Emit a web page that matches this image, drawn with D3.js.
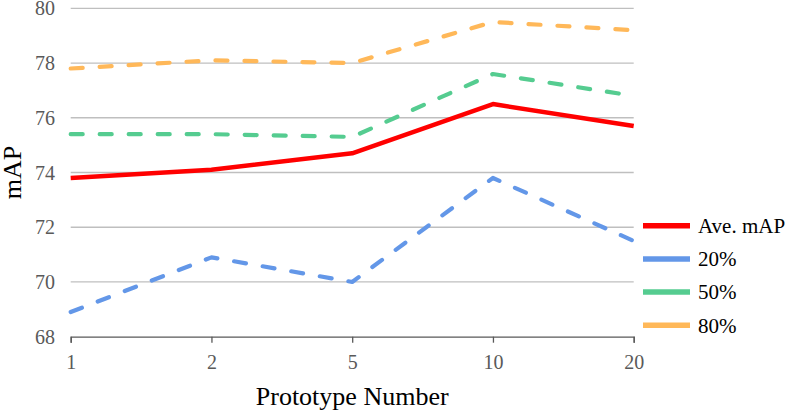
<!DOCTYPE html>
<html>
<head>
<meta charset="utf-8">
<script src="https://cdn.jsdelivr.net/npm/d3@7"></script>
<style>
  html, body { margin: 0; padding: 0; background: #fff; }
  svg { display: block; font-family: "Liberation Serif", "Times New Roman", serif; }
</style>
</head>
<body>
<svg id="chart" width="789" height="413"></svg>
<script>
const categories = ['1', '2', '5', '10', '20'];
const aveMap = [73.8, 74.1, 74.7, 76.5, 75.7];
const p20 = [68.9, 70.9, 70.0, 73.8, 71.5];
const p50 = [75.4, 75.4, 75.3, 77.6, 76.8];
const p80 = [77.8, 78.1, 78.0, 79.5, 79.2];
const yTicks = [68, 70, 72, 74, 76, 78, 80];

const series = [
  { name: 'Ave. mAP', values: aveMap, color: '#ff0000', dashed: false },
  { name: '20%', values: p20, color: '#6397e8', dashed: true },
  { name: '50%', values: p50, color: '#55cc90', dashed: true },
  { name: '80%', values: p80, color: '#ffb859', dashed: true }
];

const svg = d3.select('#chart');
const plotL = 70.7, plotR = 633.7, plotT = 8.3, plotB = 336.7;

const x = d3.scalePoint().domain(categories).range([plotL, plotR]);
const y = d3.scaleLinear().domain([68, 80]).range([plotB, plotT]);

// gridlines
svg.append('g')
  .selectAll('line')
  .data(yTicks.filter(d => d !== 68))
  .join('line')
  .attr('x1', plotL).attr('x2', plotR)
  .attr('y1', d => y(d)).attr('y2', d => y(d))
  .attr('stroke', '#bfbfbf').attr('stroke-width', 1.3);

// y labels
svg.append('g')
  .selectAll('text')
  .data(yTicks)
  .join('text')
  .attr('x', 55)
  .attr('y', d => y(d))
  .attr('dy', '0.35em')
  .attr('text-anchor', 'end')
  .attr('fill', '#595959')
  .attr('font-size', 20)
  .text(d => d);

// x axis
const xAxis = svg.append('g')
  .attr('transform', `translate(0,${plotB})`)
  .call(d3.axisBottom(x).tickSize(6).tickPadding(12));
xAxis.attr('font-family', null);
xAxis.select('.domain').attr('stroke', '#595959').attr('stroke-width', 1.3);
xAxis.selectAll('.tick line').attr('stroke', '#595959').attr('stroke-width', 1.3);
xAxis.selectAll('.tick text')
  .attr('fill', '#595959')
  .attr('font-size', 20);

// axis titles
svg.append('text')
  .attr('x', x('5')).attr('y', 405)
  .attr('text-anchor', 'middle')
  .attr('font-size', 26)
  .attr('fill', '#000')
  .text('Prototype Number');

svg.append('text')
  .attr('transform', `translate(21,${(plotT + plotB) / 2}) rotate(-90)`)
  .attr('text-anchor', 'middle')
  .attr('font-size', 26)
  .attr('fill', '#000')
  .text('mAP');

// lines
const line = d3.line()
  .x((d, i) => x(categories[i]))
  .y(d => y(d));

const drawOrder = [series[3], series[2], series[1], series[0]];
svg.append('g')
  .selectAll('path')
  .data(drawOrder)
  .join('path')
  .attr('d', d => line(d.values))
  .attr('fill', 'none')
  .attr('stroke', d => d.color)
  .attr('stroke-width', d => d.dashed ? 4.2 : 4.5)
  .attr('stroke-linejoin', 'round')
  .attr('stroke-linecap', d => d.dashed ? 'round' : 'butt')
  .attr('stroke-dasharray', d => d.dashed ? '12 17' : null);

// legend
const legend = svg.append('g')
  .selectAll('g')
  .data(series)
  .join('g')
  .attr('transform', (d, i) => `translate(643,${225.7 + i * 33.2})`);

legend.append('line')
  .attr('x1', 0).attr('x2', 47)
  .attr('y1', 0).attr('y2', 0)
  .attr('stroke', d => d.color)
  .attr('stroke-width', 5.5);

legend.append('text')
  .attr('x', 55)
  .attr('y', 0)
  .attr('dy', '0.35em')
  .attr('font-size', 21)
  .attr('fill', '#000')
  .text(d => d.name);
</script>
</body>
</html>
